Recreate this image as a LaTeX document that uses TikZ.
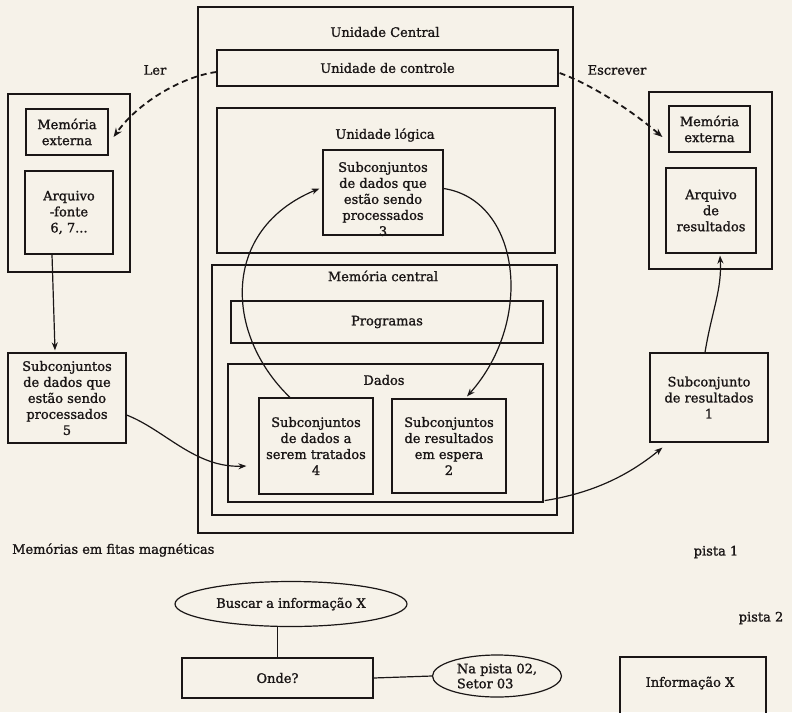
\documentclass[tikz,border=0pt]{standalone}
\usepackage{fontspec}
\setmainfont{DejaVu Serif}[FakeBold=1.3]
\usetikzlibrary{arrows.meta,shapes.geometric}
\definecolor{paper}{RGB}{246,242,233}
\definecolor{ink}{RGB}{26,22,22}
\tikzset{
  box/.style={draw=ink, line width=1.2pt, inner sep=0pt, text=ink, align=center, font=\fontsize{13}{16}\selectfont},
  txt/.style={text=ink, align=center, inner sep=0pt, font=\fontsize{13}{16}\selectfont},
  oval/.style={draw=ink, line width=1.2pt, ellipse, inner sep=0pt, text=ink, font=\fontsize{13}{15}\selectfont},
  arr/.style={draw=ink, line width=1.2pt, -{Stealth[length=8pt,width=6pt]}},
  dasharr/.style={draw=ink, line width=1.8pt, dash pattern=on 6pt off 4pt, -{Stealth[length=9pt,width=7pt]}},
  plain/.style={draw=ink, line width=1.2pt},
  sz/.style 2 args={minimum width=#1, minimum height=#2}
}
\begin{document}
\begin{tikzpicture}[x=1pt,y=-1pt]
\useasboundingbox (0,0) rectangle (792,712);
\clip (0,0) rectangle (792,712);
\fill[paper] (0,0) rectangle (792,712);

% Unidade Central
\node[box, sz={375}{526}] (uc) at (385.5,270) {};
\node[txt] (uct) at (385,32) {Unidade Central};
\node[box, sz={341}{36}] (ctl) at (387.5,68) {Unidade de controle};
\node[box, sz={338}{145}] (ul) at (386,180.5) {};
\node[txt] (ult) at (385,135) {Unidade lógica};
\node[box, sz={120}{85}] (s3) at (383,192.5) {};
\node[txt] (s3t) at (383,199) {Subconjuntos\\de dados que\\estão sendo\\processados\\3};
\node[box, sz={345}{250}] (mc) at (384.5,390) {};
\node[txt] (mct) at (383,276) {Memória central};
\node[box, sz={312}{42}] (prog) at (387,322) {Programas};
\node[box, sz={315}{138}] (dados) at (385.5,433) {};
\node[txt] (dat) at (384,380) {Dados};
\node[box, sz={114}{96}] (s4) at (316,446) {Subconjuntos\\de dados a\\serem tratados\\4};
\node[box, sz={114}{94}] (s2) at (449,446) {Subconjuntos\\de resultados\\em espera\\2};

% left external memory
\node[box, sz={122}{178}] (mel) at (69,183) {};
\node[box, sz={82}{46}] (me1) at (67,132) {Memória\\externa};
\node[box, sz={88}{83}] (af) at (69,212.5) {Arquivo\\-fonte\\6, 7...};
\node[box, sz={118}{90}] (s5) at (67,398) {Subconjuntos\\de dados que\\estão sendo\\processados\\5};

% right external memory
\node[box, sz={123}{177}] (mer) at (710.5,180.5) {};
\node[box, sz={81}{46}] (me2) at (709.5,129) {Memória\\externa};
\node[box, sz={90}{85}] (ar) at (711,210.5) {Arquivo\\de\\resultados};
\node[box, sz={118}{89}] (s1) at (709,397.5) {Subconjunto\\de resultados\\1};

% labels
\node[txt] (ler) at (155,70) {Ler};
\node[txt] (esc) at (617,70) {Escrever};

% dashed read / write
\draw[dasharr] ([shift={(0,4)}]ctl.west) .. controls (185,76) and (140,100) .. ([shift={(5,5)}]me1.east);
\draw[dasharr] ([shift={(1,5)}]ctl.east) .. controls (585,82) and (625,105) .. ([shift={(-6,8)}]me2.west);

% flow arrows
\draw[arr] ([shift={(-17,0)}]af.south) -- ([shift={(-12,-2)}]s5.north);
\draw[arr] ([shift={(0,17)}]s5.east) .. controls (165,430) and (195,468) .. ([shift={(-12,20)}]s4.west);
\draw[arr] ([shift={(-26,0)}]s4.north) .. controls (225,335) and (220,230) .. ([shift={(-3,-4)}]s3.west);
\draw[arr] ([shift={(0,-4)}]s3.east) .. controls (520,200) and (535,320) .. ([shift={(18,-2)}]s2.north);
\draw[arr] ([shift={(1,-2)}]dados.south east) .. controls (600,492) and (635,470) .. ([shift={(13,5)}]s1.south west);
\draw[arr] ([shift={(-4,0)}]s1.north) .. controls (712,310) and (722,290) .. ([shift={(9,2)}]ar.south);

% bottom part
\node[txt, anchor=west] (fitas) at (12,550) {Memórias em fitas magnéticas};
\node[txt] (p1) at (716,552) {pista 1};
\node[txt] (p2) at (761,618) {pista 2};
\node[oval, minimum width=232, minimum height=45] (bus) at (291,604) {Buscar a informação X};
\node[box, sz={191}{40}] (onde) at (277.5,678) {Onde?};
\node[oval, minimum width=129, minimum height=42, align=left] (nap) at (497,676) {Na pista 02,\\Setor 03};
\node[box, sz={146}{61}] (infx) at (693,687.5) {};
\node[txt] (infxt) at (690,683) {Informação X};
\draw[plain] (onde.north) -- (onde.north |- bus.south);
\draw[plain] (onde.east) -- (nap.west);
\end{tikzpicture}
\end{document}
